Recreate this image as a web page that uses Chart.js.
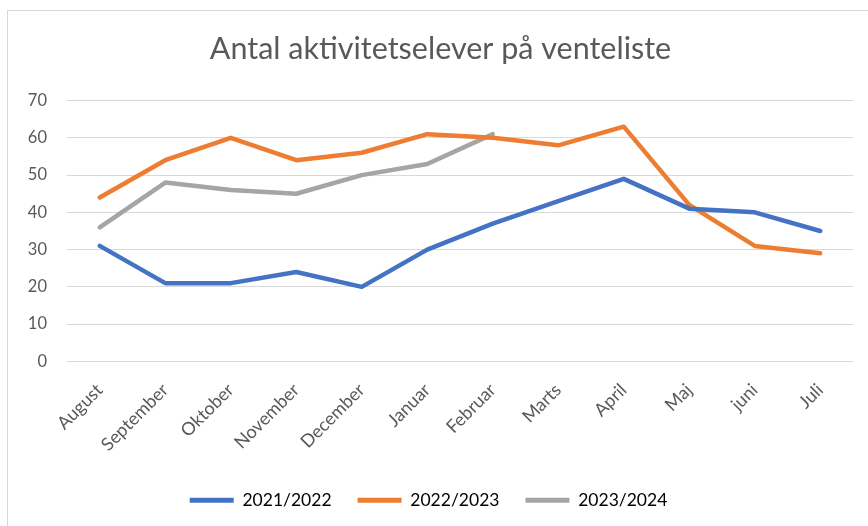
<!DOCTYPE html>
<html>
<head>
<meta charset="utf-8">
<script src="https://cdn.jsdelivr.net/npm/chart.js@4"></script>
<style>
  html, body { margin: 0; padding: 0; background: #fff; overflow: hidden; }
  #frame { position: absolute; left: 7px; top: 10px; width: 880px; height: 540px; border: 1px solid #d9d9d9; box-sizing: border-box; }
  #wrap { position: absolute; left: 0; top: 0; width: 868px; height: 526px; }
</style>
</head>
<body>
<div id="frame"></div>
<div id="wrap"><canvas id="c" width="868" height="526"></canvas></div>
<script>
const categories = ["August","September","Oktober","November","December","Januar","Februar","Marts","April","Maj","juni","Juli"];
const series2122 = [31, 21, 21, 24, 20, 30, 37, 43, 49, 41, 40, 35];
const series2223 = [44, 54, 60, 54, 56, 61, 60, 58, 63, 42, 31, 29];
const series2324 = [36, 48, 46, 45, 50, 53, 61, null, null, null, null, null];
const yTicks = [0, 10, 20, 30, 40, 50, 60, 70];
const seriesNames = ["2021/2022", "2022/2023", "2023/2024"];
const colors = ["#4472C4", "#ED7D31", "#A5A5A5"];

const FONT = "Lato, 'Open Sans', sans-serif";
const ds = [series2122, series2223, series2324].map((d, i) => ({
  label: seriesNames[i],
  data: d,
  borderColor: colors[i],
  backgroundColor: colors[i],
  borderWidth: 4.5,
  pointRadius: 0,
  pointHoverRadius: 0,
  tension: 0,
  fill: false,
  spanGaps: false,
  borderCapStyle: 'round',
  borderJoinStyle: 'round'
}));

const legendShift = {
  id: 'legendShift',
  afterLayout(chart) {
    if (chart.legend) { chart.legend.left -= 12; chart.legend.right -= 12; }
  }
};

new Chart(document.getElementById('c'), {
  type: 'line',
  data: { labels: categories, datasets: ds },
  plugins: [legendShift],
  options: {
    responsive: false,
    animation: false,
    devicePixelRatio: 1,
    layout: { padding: { left: 28, right: 15, top: 0, bottom: 7 } },
    plugins: {
      title: {
        display: true,
        text: "Antal aktivitetselever på venteliste",
        color: "#595959",
        font: { family: FONT, size: 30.5, weight: 'normal' },
        padding: { top: 31, bottom: 33 }
      },
      legend: {
        position: 'bottom',
        labels: {
          color: "#595959",
          font: { family: FONT, size: 17.5 },
          boxWidth: 44,
          boxHeight: 5,
          padding: 26,
          generateLabels: (chart) => chart.data.datasets.map((d, i) => ({
            text: d.label, fillStyle: d.borderColor, strokeStyle: d.borderColor,
            lineWidth: 0, datasetIndex: i, hidden: false
          }))
        }
      },
      tooltip: { enabled: false }
    },
    scales: {
      x: {
        offset: true,
        grid: { display: false },
        border: { display: false },
        ticks: {
          color: "#595959",
          font: { family: FONT, size: 18 },
          minRotation: 45, maxRotation: 45,
          padding: 10
        }
      },
      y: {
        min: 0, max: 70,
        afterBuildTicks: (s) => { s.ticks = yTicks.map(v => ({ value: v })); },
        afterFit: (s) => { s.width = 39; },
        grid: { color: "#d9d9d9", lineWidth: 1, drawTicks: false },
        border: { display: false },
        ticks: {
          color: "#595959",
          font: { family: FONT, size: 16.5 },
          padding: 20
        }
      }
    }
  }
});
</script>
</body>
</html>
